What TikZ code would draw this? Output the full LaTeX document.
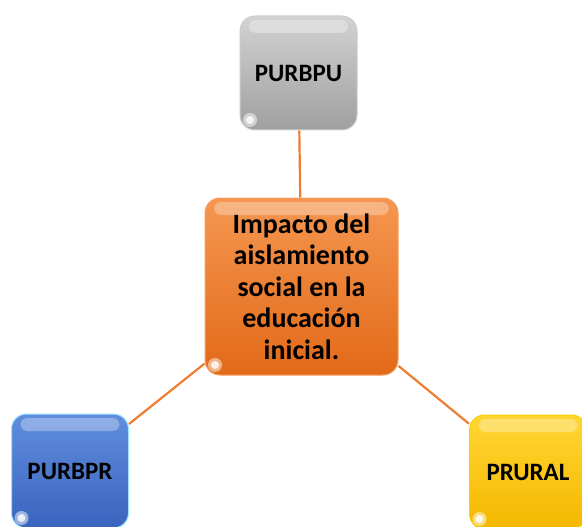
\documentclass[tikz,border=0pt]{standalone}
\usepackage{fontspec}
\setmainfont{Carlito}
\usetikzlibrary{positioning}
\definecolor{lineorange}{HTML}{ED7D31}
\tikzset{
    glossy/.style={
      rounded corners=15pt, line width=1pt,
      font=\bfseries, align=center, inner sep=0pt,
      path picture={
        \fill[white, opacity=0.3, rounded corners=7pt]
          ([xshift=9pt,yshift=-4pt]path picture bounding box.north west) rectangle
          ([xshift=-9pt,yshift=-17pt]path picture bounding box.north east);
        \fill[white, opacity=0.5]
          ([xshift=10pt,yshift=10pt]path picture bounding box.south west) circle (7pt);
        \fill[white, opacity=0.8]
          ([xshift=10pt,yshift=10pt]path picture bounding box.south west) circle (4pt);
      }
    },
    leafbox/.style={glossy, minimum width=117pt, minimum height=114pt,
      font=\bfseries\fontsize{25}{30}\selectfont},
    graybox/.style={leafbox, draw=gray!40, top color=gray!35, bottom color=gray!75},
    bluebox/.style={leafbox, draw=blue!25!cyan!40, top color={rgb,255:red,96;green,142;blue,222},
      bottom color={rgb,255:red,58;green,100;blue,190}},
    yellowbox/.style={leafbox, draw=yellow!70!orange, top color={rgb,255:red,255;green,214;blue,51},
      bottom color={rgb,255:red,245;green,184;blue,0}},
    link/.style={draw=lineorange, line width=2.2pt},
}
\begin{document}
\begin{tikzpicture}[x=1pt, y=-1pt]
    \useasboundingbox (0,0) rectangle (582,527);

    \node[glossy, minimum width=193pt, minimum height=177pt,
      draw={rgb,255:red,245;green,160;blue,100},
      top color={rgb,255:red,245;green,150;blue,80},
      bottom color={rgb,255:red,226;green,106;blue,24},
      font=\bfseries\fontsize{28}{31.5}\selectfont] (centro) at (301.5,286.5)
      {Impacto del\\aislamiento\\social en la\\educación\\inicial.};

    \node[graybox, above=67pt of centro, xshift=-3pt] (purbpu) {PURBPU};
    \node[bluebox] (purbpr) at (70,471) {PURBPR};
    \node[yellowbox] (prural) at (528,472) {PRURAL};

    \draw[link] (centro) -- (purbpu);
    \draw[link] (centro) -- (purbpr);
    \draw[link] (centro) -- (prural);
\end{tikzpicture}
\end{document}
